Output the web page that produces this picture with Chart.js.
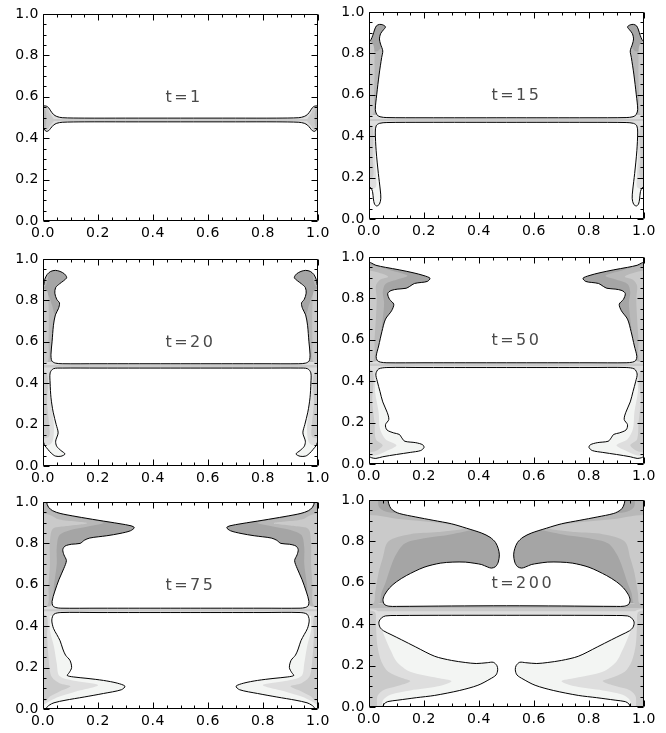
<!DOCTYPE html>
<html>
<head>
<meta charset="utf-8">
<script src="https://cdn.jsdelivr.net/npm/chart.js@4.4.1/dist/chart.umd.min.js"></script>
<style>
  body { margin: 0; background: #fff; width: 666px; height: 733px; overflow: hidden; position: relative; }
  canvas { position: absolute; }
</style>
</head>
<body>
<canvas id="p1" width="334" height="245" style="left:0px;top:0px"></canvas>
<canvas id="p2" width="334" height="245" style="left:326px;top:-2px"></canvas>
<canvas id="p3" width="334" height="245" style="left:0px;top:245px"></canvas>
<canvas id="p4" width="334" height="245" style="left:326px;top:243px"></canvas>
<canvas id="p5" width="334" height="245" style="left:0px;top:488px"></canvas>
<canvas id="p6" width="334" height="245" style="left:326px;top:486px"></canvas>
<script>
// axis ticks
const majorTicks = [0, 0.2, 0.4, 0.6, 0.8, 1.0];
const minorTicks = [0.05, 0.1, 0.15, 0.25, 0.3, 0.35, 0.45, 0.5, 0.55, 0.65, 0.7, 0.75, 0.85, 0.9, 0.95];
const timeLabels = ["t=1", "t=15", "t=20", "t=50", "t=75", "t=200"];

// contour shapes. Arrays that stay left of x=0.5 are the
// left-wall half, the right wall is the mirror image; wider arrays are used as they are.

// t=1
const t1Upper = [[-0.05,1.05],[-0.05,0.556],[0.003,0.556],[0.012,0.555],[0.02,0.548],[0.028,0.532],[0.038,0.515],[0.05,0.505],[0.07,0.499],[0.15,0.497],[0.3,0.497],[0.5,0.497]];
const t1Lower = [[0.5,0.479],[0.3,0.479],[0.15,0.479],[0.07,0.477],[0.05,0.472],[0.038,0.463],[0.028,0.448],[0.02,0.436],[0.012,0.433],[0.006,0.44],[0.002,0.448],[-0.05,0.448],[-0.05,-0.05]];
const t1Band = [[-0.05,0.43],[1.05,0.43],[1.05,0.56],[-0.05,0.56]];
const t1BandCore = [[-0.05,0.483],[1.05,0.483],[1.05,0.493],[-0.05,0.493]];
const t1Wall = [[-0.05,0.43],[0.012,0.435],[0.025,0.46],[0.04,0.485],[0.025,0.52],[0.012,0.55],[-0.05,0.56]];
const t1WallCore = [[-0.05,0.44],[0.006,0.45],[0.012,0.49],[0.006,0.54],[-0.05,0.55]];

// t=15
const t15Upper = [[-0.05,1.05],[-0.05,0.857],[0.0,0.857],[0.007,0.866],[0.014,0.888],[0.02,0.913],[0.027,0.933],[0.038,0.94],[0.05,0.938],[0.06,0.928],[0.052,0.913],[0.042,0.895],[0.038,0.87],[0.042,0.845],[0.05,0.812],[0.046,0.78],[0.037,0.7],[0.028,0.6],[0.023,0.53],[0.028,0.505],[0.04,0.494],[0.065,0.49],[0.2,0.489],[0.5,0.489]];
const t15Lower = [[0.5,0.467],[0.2,0.467],[0.065,0.466],[0.038,0.462],[0.026,0.45],[0.023,0.42],[0.026,0.33],[0.034,0.22],[0.041,0.14],[0.043,0.1],[0.038,0.072],[0.028,0.063],[0.02,0.072],[0.016,0.097],[0.013,0.132],[0.007,0.15],[0.0,0.156],[-0.05,0.156],[-0.05,-0.05]];
const t15UpperBase = [[-0.05,0.97],[1.05,0.97],[1.05,0.5],[-0.05,0.5]];
const t15LowerBase = [[-0.05,0.5],[1.05,0.5],[1.05,-0.05],[-0.05,-0.05]];
const t15Band = [[-0.05,0.45],[1.05,0.45],[1.05,0.5],[-0.05,0.5]];
const t15BandCore = [[-0.05,0.473],[1.05,0.473],[1.05,0.483],[-0.05,0.483]];
const t15Plume = [[-0.05,0.85],[0.008,0.87],[0.02,0.93],[0.04,0.955],[0.07,0.94],[0.06,0.88],[0.048,0.84],[0.03,0.81],[-0.05,0.81]];
const t15UpperWall = [[-0.05,0.86],[0.012,0.85],[0.02,0.75],[0.018,0.6],[0.012,0.5],[-0.05,0.5]];
const t15LowerMid = [[-0.05,0.47],[0.02,0.46],[0.022,0.3],[0.026,0.2],[0.022,0.15],[-0.05,0.15]];
const t15LowerWall = [[-0.05,0.46],[0.01,0.45],[0.013,0.3],[0.012,0.2],[-0.05,0.18]];

// t=20
const t20Upper = [[-0.05,1.05],[-0.05,0.87],[0.0,0.87],[0.006,0.9],[0.015,0.925],[0.028,0.94],[0.045,0.945],[0.062,0.94],[0.078,0.928],[0.086,0.91],[0.075,0.895],[0.06,0.88],[0.046,0.862],[0.043,0.835],[0.05,0.805],[0.06,0.787],[0.056,0.76],[0.045,0.73],[0.038,0.68],[0.033,0.6],[0.029,0.54],[0.032,0.508],[0.045,0.497],[0.07,0.494],[0.2,0.494],[0.5,0.494]];
const t20Lower = [[0.5,0.473],[0.2,0.473],[0.07,0.473],[0.038,0.47],[0.026,0.45],[0.026,0.4],[0.029,0.33],[0.037,0.26],[0.048,0.2],[0.055,0.16],[0.046,0.12],[0.05,0.095],[0.065,0.075],[0.08,0.058],[0.065,0.047],[0.045,0.048],[0.03,0.062],[0.018,0.08],[0.006,0.1],[0.0,0.117],[-0.05,0.117],[-0.05,-0.05]];
const t20UpperBase = [[-0.05,0.97],[1.05,0.97],[1.05,0.5],[-0.05,0.5]];
const t20LowerBase = [[-0.05,0.5],[1.05,0.5],[1.05,-0.05],[-0.05,-0.05]];
const t20Band = [[-0.05,0.45],[1.05,0.45],[1.05,0.5],[-0.05,0.5]];
const t20BandCore = [[-0.05,0.476],[1.05,0.476],[1.05,0.488],[-0.05,0.488]];
const t20Plume = [[-0.05,0.85],[0.008,0.87],[0.03,0.955],[0.095,0.95],[0.095,0.88],[0.058,0.86],[0.052,0.8],[0.065,0.76],[0.045,0.73],[0.032,0.78],[0.015,0.83],[-0.05,0.83]];
const t20UpperWall = [[-0.05,0.86],[0.012,0.85],[0.02,0.78],[0.02,0.6],[0.015,0.5],[-0.05,0.5]];
const t20LowerMid = [[-0.05,0.47],[0.02,0.46],[0.025,0.35],[0.035,0.25],[0.04,0.18],[0.035,0.12],[0.02,0.1],[-0.05,0.1]];
const t20LowerWall = [[-0.05,0.46],[0.012,0.45],[0.015,0.3],[0.022,0.2],[0.02,0.14],[-0.05,0.13]];

// t=50
const t50Upper = [[-0.05,1.05],[-0.05,0.975],[0.0,0.975],[0.01,0.97],[0.025,0.96],[0.06,0.95],[0.11,0.938],[0.16,0.924],[0.2,0.91],[0.222,0.897],[0.212,0.882],[0.19,0.877],[0.165,0.872],[0.148,0.858],[0.135,0.849],[0.105,0.845],[0.08,0.838],[0.068,0.823],[0.075,0.795],[0.09,0.772],[0.082,0.74],[0.06,0.7],[0.047,0.64],[0.035,0.57],[0.026,0.52],[0.03,0.5],[0.042,0.492],[0.065,0.489],[0.2,0.489],[0.5,0.489]];
const t50Lower = [[0.5,0.466],[0.2,0.466],[0.065,0.466],[0.035,0.459],[0.025,0.435],[0.03,0.4],[0.04,0.35],[0.05,0.3],[0.066,0.25],[0.072,0.215],[0.06,0.19],[0.065,0.165],[0.09,0.15],[0.11,0.143],[0.12,0.125],[0.13,0.11],[0.17,0.103],[0.195,0.093],[0.2,0.08],[0.188,0.065],[0.15,0.056],[0.1,0.046],[0.05,0.035],[0.025,0.027],[0.01,0.03],[0.0,0.035],[-0.05,0.035],[-0.05,-0.05]];
const t50UpperBase = [[-0.05,1.05],[1.05,1.05],[1.05,0.5],[-0.05,0.5]];
const t50LowerBase = [[-0.05,0.5],[1.05,0.5],[1.05,-0.05],[-0.05,-0.05]];
const t50Band = [[-0.05,0.45],[1.05,0.45],[1.05,0.5],[-0.05,0.5]];
const t50BandCore = [[-0.05,0.474],[1.05,0.474],[1.05,0.486],[-0.05,0.486]];
const t50UpperMid = [[-0.05,0.97],[0.03,0.955],[0.08,0.935],[0.14,0.91],[0.1,0.89],[0.06,0.87],[0.05,0.83],[0.055,0.78],[0.05,0.7],[0.04,0.6],[0.03,0.5],[-0.05,0.5]];
const t50UpperWall = [[-0.05,0.94],[0.02,0.93],[0.07,0.905],[0.04,0.89],[0.025,0.86],[0.028,0.8],[0.025,0.7],[0.02,0.6],[0.015,0.5],[-0.05,0.5]];
const t50LowerMid = [[-0.05,0.47],[0.02,0.46],[0.022,0.35],[0.035,0.25],[0.04,0.17],[0.06,0.12],[0.1,0.09],[0.06,0.06],[0.02,0.04],[-0.05,0.035]];
const t50LowerWall = [[-0.05,0.46],[0.012,0.45],[0.012,0.3],[0.02,0.2],[0.025,0.12],[0.05,0.09],[0.02,0.06],[-0.05,0.05]];

// t=75
const t75Upper = [[0.013,1.05],[0.013,1.0],[0.02,0.975],[0.035,0.958],[0.062,0.945],[0.12,0.93],[0.2,0.912],[0.28,0.895],[0.32,0.885],[0.332,0.876],[0.318,0.861],[0.28,0.848],[0.232,0.837],[0.17,0.826],[0.15,0.815],[0.135,0.8],[0.104,0.796],[0.08,0.787],[0.072,0.77],[0.076,0.745],[0.085,0.717],[0.076,0.68],[0.058,0.625],[0.042,0.565],[0.033,0.52],[0.036,0.498],[0.047,0.49],[0.065,0.487],[0.2,0.487],[0.5,0.487]];
const t75Lower = [[0.5,0.466],[0.2,0.466],[0.065,0.466],[0.04,0.458],[0.032,0.43],[0.038,0.39],[0.05,0.36],[0.062,0.33],[0.072,0.29],[0.082,0.26],[0.098,0.235],[0.104,0.2],[0.095,0.175],[0.088,0.162],[0.11,0.155],[0.16,0.148],[0.22,0.138],[0.27,0.125],[0.298,0.11],[0.285,0.093],[0.22,0.075],[0.15,0.058],[0.08,0.042],[0.04,0.03],[0.022,0.018],[0.013,0.005],[0.01,-0.05]];
const t75UpperBase = [[-0.05,1.05],[1.05,1.05],[1.05,0.5],[-0.05,0.5]];
const t75LowerBase = [[-0.05,0.5],[1.05,0.5],[1.05,-0.05],[-0.05,-0.05]];
const t75Band = [[-0.05,0.45],[1.05,0.45],[1.05,0.5],[-0.05,0.5]];
const t75BandCore = [[-0.05,0.472],[1.05,0.472],[1.05,0.482],[-0.05,0.482]];
const t75UpperMid = [[-0.05,1.05],[0.01,1.05],[0.015,0.98],[0.04,0.95],[0.12,0.925],[0.22,0.9],[0.16,0.88],[0.1,0.865],[0.06,0.84],[0.05,0.78],[0.05,0.7],[0.04,0.6],[0.03,0.5],[-0.05,0.5]];
const t75UpperWall = [[-0.05,0.95],[0.02,0.94],[0.06,0.915],[0.16,0.898],[0.08,0.883],[0.035,0.87],[0.025,0.8],[0.025,0.7],[0.02,0.6],[0.015,0.5],[-0.05,0.5]];
const t75LowerMid = [[-0.05,0.47],[0.02,0.46],[0.025,0.38],[0.04,0.3],[0.05,0.22],[0.06,0.16],[0.12,0.135],[0.2,0.115],[0.12,0.085],[0.06,0.06],[0.02,0.035],[0.0,0.02],[-0.05,0.02]];
const t75LowerWall = [[-0.05,0.46],[0.012,0.45],[0.015,0.35],[0.02,0.25],[0.03,0.16],[0.06,0.125],[0.1,0.11],[0.06,0.085],[0.025,0.06],[0.01,0.04],[-0.05,0.04]];

// t=200
const t200Upper = [[0.069,1.05],[0.069,1.0],[0.075,0.97],[0.085,0.952],[0.11,0.935],[0.17,0.918],[0.233,0.902],[0.3,0.885],[0.354,0.864],[0.41,0.84],[0.44,0.82],[0.46,0.795],[0.47,0.765],[0.474,0.735],[0.47,0.7],[0.46,0.678],[0.445,0.671],[0.43,0.677],[0.41,0.688],[0.385,0.694],[0.35,0.7],[0.305,0.7],[0.26,0.695],[0.2,0.675],[0.136,0.635],[0.1,0.605],[0.075,0.576],[0.058,0.545],[0.051,0.52],[0.055,0.497],[0.072,0.487],[0.1,0.486],[0.3,0.488],[0.5,0.489]];
const t200Lower = [[0.5,0.443],[0.3,0.443],[0.1,0.442],[0.06,0.44],[0.045,0.43],[0.036,0.41],[0.04,0.385],[0.053,0.368],[0.08,0.35],[0.118,0.325],[0.17,0.29],[0.239,0.245],[0.3,0.225],[0.35,0.215],[0.39,0.21],[0.43,0.214],[0.452,0.216],[0.465,0.2],[0.468,0.18],[0.462,0.155],[0.44,0.135],[0.396,0.105],[0.33,0.08],[0.239,0.056],[0.172,0.045],[0.105,0.033],[0.068,0.026],[0.055,0.015],[0.051,0.003],[0.05,-0.05]];
const t200UpperBase = [[-0.05,1.05],[1.05,1.05],[1.05,0.5],[-0.05,0.5]];
const t200LowerBase = [[-0.05,0.5],[1.05,0.5],[1.05,-0.05],[-0.05,-0.05]];
const t200Band = [[-0.05,0.43],[1.05,0.43],[1.05,0.5],[-0.05,0.5]];
const t200BandCore = [[-0.05,0.463],[1.05,0.463],[1.05,0.5],[-0.05,0.5]];
const t200BandTop = [[-0.05,0.478],[1.05,0.478],[1.05,0.5],[-0.05,0.5]];
const t200UpperMid = [[-0.05,1.05],[0.03,1.05],[0.035,0.97],[0.06,0.945],[0.15,0.93],[0.3,0.905],[0.4,0.87],[0.3,0.835],[0.2,0.815],[0.13,0.79],[0.1,0.74],[0.08,0.68],[0.06,0.6],[0.045,0.55],[0.035,0.5],[-0.05,0.5]];
const t200UpperWall = [[-0.05,0.93],[0.03,0.925],[0.1,0.91],[0.25,0.89],[0.35,0.865],[0.25,0.845],[0.15,0.835],[0.07,0.8],[0.05,0.72],[0.035,0.65],[0.022,0.55],[0.015,0.5],[-0.05,0.5]];
const t200LowerMid = [[-0.05,0.47],[0.03,0.465],[0.04,0.4],[0.06,0.33],[0.08,0.27],[0.1,0.22],[0.15,0.17],[0.25,0.14],[0.3,0.125],[0.25,0.1],[0.15,0.08],[0.08,0.06],[0.05,0.03],[0.04,-0.05],[-0.05,-0.05]];
const t200LowerWall = [[-0.05,0.47],[0.02,0.46],[0.025,0.4],[0.03,0.3],[0.045,0.22],[0.07,0.17],[0.12,0.14],[0.15,0.125],[0.1,0.1],[0.05,0.08],[0.03,0.05],[0.025,-0.05],[-0.05,-0.05]];

const shade = {
  dark: "#a5a5a5",
  mid: "#b8b8b8",
  soft: "#cacaca",
  light: "#dedede",
  pale: "#f3f5f3"
};

// every panel: gray levels in drawing order, then the two white regions with their contour
const panels = [
  { id: "p1", label: timeLabels[0], upper: t1Upper, lower: t1Lower,
    fills: [["light", t1Band], ["soft", t1BandCore], ["soft", t1Wall], ["mid", t1WallCore]] },
  { id: "p2", label: timeLabels[1], upper: t15Upper, lower: t15Lower,
    fills: [["mid", t15UpperBase], ["pale", t15LowerBase], ["light", t15Band], ["soft", t15BandCore],
            ["dark", t15Plume], ["soft", t15UpperWall], ["light", t15LowerMid], ["soft", t15LowerWall]] },
  { id: "p3", label: timeLabels[2], upper: t20Upper, lower: t20Lower,
    fills: [["mid", t20UpperBase], ["pale", t20LowerBase], ["light", t20Band], ["soft", t20BandCore],
            ["dark", t20Plume], ["soft", t20UpperWall], ["light", t20LowerMid], ["soft", t20LowerWall]] },
  { id: "p4", label: timeLabels[3], upper: t50Upper, lower: t50Lower,
    fills: [["dark", t50UpperBase], ["pale", t50LowerBase], ["light", t50Band], ["soft", t50BandCore],
            ["mid", t50UpperMid], ["soft", t50UpperWall], ["light", t50LowerMid], ["soft", t50LowerWall]] },
  { id: "p5", label: timeLabels[4], upper: t75Upper, lower: t75Lower,
    fills: [["dark", t75UpperBase], ["pale", t75LowerBase], ["light", t75Band], ["soft", t75BandCore],
            ["mid", t75UpperMid], ["soft", t75UpperWall], ["light", t75LowerMid], ["soft", t75LowerWall]] },
  { id: "p6", label: timeLabels[5], upper: t200Upper, lower: t200Lower,
    fills: [["dark", t200UpperBase], ["pale", t200LowerBase], ["light", t200Band], ["soft", t200BandCore], ["mid", t200BandTop],
            ["mid", t200UpperMid], ["soft", t200UpperWall], ["light", t200LowerMid], ["soft", t200LowerWall]] }
];

function toPoints(arr) {
  return arr.map(p => ({ x: p[0], y: p[1] }));
}
function mirror(arr) {
  return arr.map(p => [1 - p[0], p[1]]);
}
// left half + its reflection, going round once and back to the start so the contour is closed
function wholeShape(half) {
  const right = mirror(half.slice().reverse().filter(p => p[0] !== 0.5));
  const all = half.concat(right);
  all.push(all[0]);
  return all;
}
function isHalf(arr) {
  return arr.every(p => p[0] <= 0.5);
}

function area(points, color, tension) {
  return {
    data: toPoints(points),
    showLine: true,
    fill: "shape",
    backgroundColor: color,
    borderColor: "rgba(0,0,0,0)",
    borderWidth: 0,
    pointRadius: 0,
    tension: tension
  };
}

function buildDatasets(panel) {
  const list = [];
  panel.fills.forEach(([level, arr]) => {
    if (isHalf(arr)) {
      list.push(area(arr, shade[level], 0.3));
      list.push(area(mirror(arr), shade[level], 0.3));
    } else {
      list.push(area(arr, shade[level], 0));
    }
  });
  [panel.upper, panel.lower].forEach(half => {
    const ds = area(wholeShape(half), "#ffffff", 0.3);
    ds.borderColor = "#000000";
    ds.borderWidth = 1;
    list.push(ds);
  });
  // first in the list is painted first
  list.forEach((ds, i) => { ds.order = list.length - i; });
  return list;
}

const framePlugin = {
  id: "frame",
  beforeDraw(chart) {
    chart.ctx.letterSpacing = "0.5px";
  },
  afterDatasetsDraw(chart) {
    const { ctx, chartArea: a, scales } = chart;
    const xs = scales.x, ys = scales.y;
    ctx.save();
    ctx.strokeStyle = "#000";
    ctx.lineWidth = 1;
    ctx.beginPath();
    const L = Math.round(a.left) + 0.5, R = Math.round(a.right) - 0.5;
    const T = Math.round(a.top) + 0.5, B = Math.round(a.bottom) - 0.5;
    ctx.rect(L, T, R - L, B - T);
    const tick = (v, len) => {
      const px = Math.round(xs.getPixelForValue(v)) + 0.5;
      const py = Math.round(ys.getPixelForValue(v)) + 0.5;
      ctx.moveTo(px, B); ctx.lineTo(px, B - len);
      ctx.moveTo(px, T); ctx.lineTo(px, T + len);
      ctx.moveTo(L, py); ctx.lineTo(L + len, py);
      ctx.moveTo(R, py); ctx.lineTo(R - len, py);
    };
    majorTicks.forEach(v => tick(v, 6));
    minorTicks.forEach(v => tick(v, 3));
    ctx.stroke();

    const label = chart.options.plugins.frame.label;
    ctx.fillStyle = "#4a4a4a";
    ctx.font = '16px "DejaVu Sans"';
    ctx.letterSpacing = "2.5px";
    ctx.textAlign = "left";
    ctx.textBaseline = "alphabetic";
    ctx.fillText(label, xs.getPixelForValue(0.445), ys.getPixelForValue(0.577));
    ctx.restore();
  }
};

const tickFont = { family: "DejaVu Sans", size: 14 };

panels.forEach(panel => {
  new Chart(document.getElementById(panel.id), {
    type: "scatter",
    data: { datasets: buildDatasets(panel) },
    plugins: [framePlugin],
    options: {
      responsive: false,
      animation: false,
      devicePixelRatio: 1,
      events: [],
      layout: { padding: { top: 14, right: 16, left: 0, bottom: 0 } },
      plugins: {
        legend: { display: false },
        tooltip: { enabled: false },
        frame: { label: panel.label }
      },
      scales: {
        x: {
          type: "linear", min: 0, max: 1,
          afterFit: s => { s.height = 24; },
          afterBuildTicks: s => { s.ticks = majorTicks.map(v => ({ value: v })); },
          grid: { display: false, drawTicks: false },
          border: { display: false },
          ticks: { padding: 4, color: "#000", font: tickFont, maxRotation: 0, autoSkip: false,
                    callback: v => v.toFixed(1) }
        },
        y: {
          type: "linear", min: 0, max: 1,
          afterFit: s => { s.width = 43; },
          afterBuildTicks: s => { s.ticks = majorTicks.map(v => ({ value: v })); },
          grid: { display: false, drawTicks: false },
          border: { display: false },
          ticks: { padding: 4, color: "#000", font: tickFont, autoSkip: false,
                    callback: v => v.toFixed(1) }
        }
      }
    }
  });
});
</script>
</body>
</html>
